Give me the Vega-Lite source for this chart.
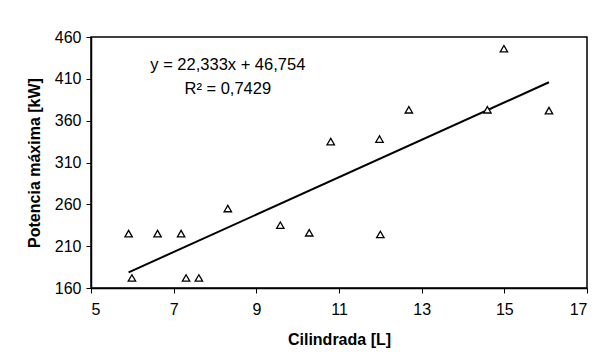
{
  "$schema": "https://vega.github.io/schema/vega-lite/v6.json",
  "width": 496,
  "height": 251,
  "autosize": {"type": "none"},
  "padding": {"left": 91, "top": 37, "right": 16, "bottom": 76},
  "background": "white",
  "config": {
    "font": "Liberation Sans",
    "view": {"stroke": "black", "strokeWidth": 1.5},
    "axis": {
      "grid": false,
      "domainColor": "black",
      "domainWidth": 1.5,
      "tickColor": "black",
      "tickSize": 5,
      "labelFont": "Liberation Sans",
      "labelFontSize": 16,
      "labelColor": "black",
      "titleFont": "Liberation Sans",
      "titleFontSize": 16,
      "titleFontWeight": "bold",
      "titleColor": "black"
    }
  },
  "datasets": {
    "points": [
      {"cil": 5.91, "pot": 225},
      {"cil": 5.99, "pot": 172},
      {"cil": 6.61, "pot": 225},
      {"cil": 7.18, "pot": 225},
      {"cil": 7.30, "pot": 172},
      {"cil": 7.61, "pot": 172},
      {"cil": 8.31, "pot": 255},
      {"cil": 9.58, "pot": 235},
      {"cil": 10.28, "pot": 226},
      {"cil": 10.80, "pot": 335},
      {"cil": 11.98, "pot": 338},
      {"cil": 12.00, "pot": 224},
      {"cil": 12.69, "pot": 373},
      {"cil": 14.59, "pot": 373},
      {"cil": 14.99, "pot": 446},
      {"cil": 16.08, "pot": 372}
    ],
    "trend": [
      {"cil": 5.91, "pot": 178.7},
      {"cil": 16.08, "pot": 405.9}
    ],
    "labels": [
      {"cil": 8.31, "pot": 426, "txt": "y = 22,333x + 46,754"},
      {"cil": 8.31, "pot": 398, "txt": "R² = 0,7429"}
    ]
  },
  "encoding": {
    "x": {
      "field": "cil",
      "type": "quantitative",
      "scale": {"domain": [5, 17], "nice": false, "zero": false},
      "axis": {"values": [5, 7, 9, 11, 13, 15, 17], "title": "Cilindrada [L]", "labelPadding": 8, "titlePadding": 14}
    },
    "y": {
      "field": "pot",
      "type": "quantitative",
      "scale": {"domain": [160, 460], "nice": false, "zero": false},
      "axis": {"values": [160, 210, 260, 310, 360, 410, 460], "title": "Potencia máxima [kW]", "labelPadding": 5, "titlePadding": 12}
    }
  },
  "layer": [
    {
      "data": {"name": "trend"},
      "mark": {"type": "line", "color": "black", "strokeWidth": 2}
    },
    {
      "data": {"name": "points"},
      "mark": {"type": "point", "shape": "triangle-up", "size": 55, "stroke": "black", "fill": "white", "filled": false, "strokeWidth": 1.3, "opacity": 1}
    },
    {
      "data": {"name": "labels"},
      "mark": {"type": "text", "font": "Liberation Sans", "fontSize": 16.5, "color": "black", "align": "center", "baseline": "middle"},
      "encoding": {"text": {"field": "txt"}}
    }
  ]
}
